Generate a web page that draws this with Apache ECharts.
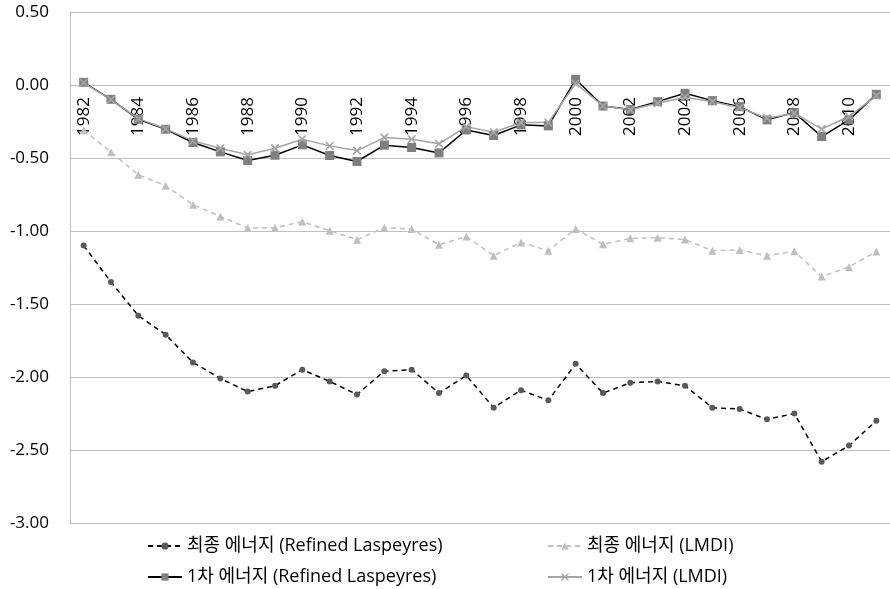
<!DOCTYPE html>
<html>
<head>
<meta charset="utf-8">
<script src="https://cdn.jsdelivr.net/npm/echarts@6/dist/echarts.min.js"></script>
<style>
html,body{margin:0;padding:0;background:#fff;}
#chart{width:890px;height:589px;}
</style>
</head>
<body>
<div id="chart"></div>
<script>
const years = ['1982','1983','1984','1985','1986','1987','1988','1989','1990','1991','1992','1993','1994','1995','1996','1997','1998','1999','2000','2001','2002','2003','2004','2005','2006','2007','2008','2009','2010','2011'];

const seriesNames = ['최종 에너지 (Refined Laspeyres)', '최종 에너지 (LMDI)', '1차 에너지 (Refined Laspeyres)', '1차 에너지 (LMDI)'];

const finalRL = [-1.10,-1.35,-1.58,-1.71,-1.90,-2.01,-2.10,-2.06,-1.95,-2.03,-2.12,-1.96,-1.95,-2.11,-1.99,-2.21,-2.09,-2.16,-1.91,-2.11,-2.04,-2.03,-2.06,-2.21,-2.22,-2.29,-2.25,-2.58,-2.47,-2.30];
const finalLMDI = [-0.31,-0.46,-0.615,-0.69,-0.82,-0.90,-0.98,-0.977,-0.936,-0.998,-1.06,-0.977,-0.986,-1.094,-1.038,-1.169,-1.078,-1.135,-0.986,-1.091,-1.05,-1.046,-1.059,-1.135,-1.13,-1.169,-1.139,-1.312,-1.246,-1.141];
const primaryRL = [0.018,-0.098,-0.235,-0.303,-0.394,-0.458,-0.517,-0.481,-0.41,-0.483,-0.524,-0.412,-0.428,-0.465,-0.308,-0.346,-0.273,-0.28,0.039,-0.144,-0.168,-0.114,-0.057,-0.107,-0.148,-0.239,-0.189,-0.353,-0.239,-0.064];
const primaryLMDI = [0.015,-0.10,-0.23,-0.30,-0.383,-0.433,-0.478,-0.433,-0.371,-0.417,-0.449,-0.36,-0.371,-0.403,-0.285,-0.324,-0.257,-0.257,0.011,-0.144,-0.17,-0.125,-0.084,-0.114,-0.155,-0.228,-0.194,-0.301,-0.216,-0.073];

const yMin = -3, yMax = 0.5, yStep = 0.5;

const FONT = '"Open Sans", "Noto Sans CJK KR", sans-serif';
const crossPath = 'path://M0,0 L1.5,0 L5,3.5 L8.5,0 L10,0 L10,1.5 L6.5,5 L10,8.5 L10,10 L8.5,10 L5,6.5 L1.5,10 L0,10 L0,8.5 L3.5,5 L0,1.5 Z';

const GRID_H = 511;
// place the category axis on the zero line of the value axis
const zeroOffset = -GRID_H * (0 - yMin) / (yMax - yMin);

const chart = echarts.init(document.getElementById('chart'), null, {renderer: 'canvas'});

function legendAt(name, left, top) {
  return {
    data: [name], left: left, top: top, orient: 'horizontal',
    itemWidth: 34, itemHeight: 9, itemGap: 0,
    textStyle: {fontFamily: FONT, fontSize: 18, color: '#000', padding: [0,0,0,0]},
    selectedMode: false
  };
}

chart.setOption({
  animation: false,
  backgroundColor: '#fff',
  grid: {left: 70, top: 12, width: 825, height: GRID_H, containLabel: false},
  legend: [
    legendAt(seriesNames[0], 142, 532),
    legendAt(seriesNames[1], 542, 532),
    legendAt(seriesNames[2], 142, 563),
    legendAt(seriesNames[3], 542, 563)
  ],
  xAxis: {
    type: 'category',
    data: years,
    boundaryGap: true,
    position: 'bottom',
    offset: zeroOffset,
    axisLine: {show: false, onZero: false},
    axisTick: {show: false},
    axisLabel: {
      interval: 1, rotate: 90, margin: 12,
      fontFamily: FONT, fontSize: 17, color: '#000'
    },
    splitLine: {show: false}
  },
  yAxis: {
    type: 'value',
    min: yMin, max: yMax, interval: yStep,
    axisLine: {show: true, lineStyle: {color: '#bfbfbf', width: 1}},
    axisTick: {show: false},
    axisLabel: {
      margin: 21, fontFamily: FONT, fontSize: 17, color: '#000',
      formatter: v => v.toFixed(2)
    },
    splitLine: {show: true, lineStyle: {color: '#bfbfbf', width: 1}}
  },
  series: [
    {
      name: seriesNames[0], type: 'line', data: finalRL,
      symbol: 'circle', symbolSize: 6,
      lineStyle: {color: '#000', width: 1.5, type: [5, 4]},
      itemStyle: {color: '#595959'}
    },
    {
      name: seriesNames[1], type: 'line', data: finalLMDI,
      symbol: 'triangle', symbolSize: 8,
      lineStyle: {color: '#bfbfbf', width: 1.5, type: [5, 4]},
      itemStyle: {color: '#bfbfbf'}
    },
    {
      name: seriesNames[2], type: 'line', data: primaryRL,
      symbol: 'rect', symbolSize: 9,
      lineStyle: {color: '#000', width: 1.5},
      itemStyle: {color: '#7f7f7f'}
    },
    {
      name: seriesNames[3], type: 'line', data: primaryLMDI,
      symbol: crossPath, symbolSize: 8,
      lineStyle: {color: '#a6a6a6', width: 1.5},
      itemStyle: {color: '#a6a6a6'}
    }
  ]
});
</script>
</body>
</html>
